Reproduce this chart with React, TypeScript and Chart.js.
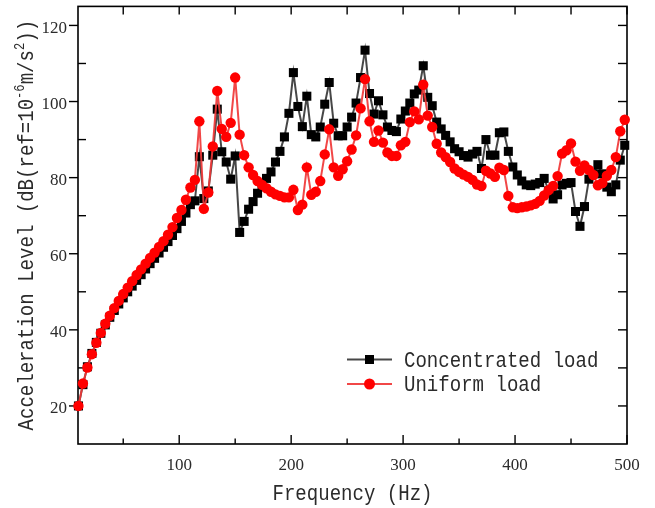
import React, { useEffect, useRef } from "react";
import { Chart, registerables } from "chart.js";

Chart.register(...registerables);

const frequencyHz = [
  10, 14, 18, 22, 26, 30, 34, 38, 42, 46,
  50, 54, 58, 62, 66, 70, 74, 78, 82, 86,
  90, 94, 98, 102, 106, 110, 114, 118, 122, 126,
  130, 134, 138, 142, 146, 150, 154, 158, 162, 166,
  170, 174, 178, 182, 186, 190, 194, 198, 202, 206,
  210, 214, 218, 222, 226, 230, 234, 238, 242, 246,
  250, 254, 258, 262, 266, 270, 274, 278, 282, 286,
  290, 294, 298, 302, 306, 310, 314, 318, 322, 326,
  330, 334, 338, 342, 346, 350, 354, 358, 362, 366,
  370, 374, 378, 382, 386, 390, 394, 398, 402, 406,
  410, 414, 418, 422, 426, 430, 434, 438, 442, 446,
  450, 454, 458, 462, 466, 470, 474, 478, 482, 486,
  490, 494, 498,
];

const concentratedLoad = [
  20.0, 25.6, 30.3, 33.8, 36.7, 39.1, 41.3, 43.3, 45.1, 46.8,
  48.4, 50.0, 51.5, 53.0, 54.5, 56.0, 57.4, 58.8, 60.2, 61.7,
  63.2, 64.8, 66.6, 68.5, 70.7, 72.9, 73.9, 85.5, 74.5, 76.5,
  85.9, 98.0, 86.8, 84.1, 79.6, 85.7, 65.6, 68.5, 71.7, 73.7,
  75.9, 77.6, 79.8, 81.5, 84.1, 86.9, 90.7, 96.9, 107.6, 98.7,
  93.4, 101.4, 91.3, 90.7, 93.3, 99.3, 105.0, 94.3, 91.0, 91.0,
  93.3, 95.9, 99.6, 106.3, 113.5, 102.1, 96.7, 100.2, 96.5, 93.3,
  92.4, 92.1, 95.4, 97.5, 99.6, 102.0, 103.0, 109.4, 101.1, 98.9,
  94.6, 92.8, 91.1, 89.4, 87.6, 86.8, 85.8, 85.4, 86.2, 86.9,
  82.4, 90.0, 85.9, 85.9, 91.8, 92.0, 86.9, 82.8, 80.7, 79.1,
  78.1, 77.9, 78.3, 78.7, 79.8, 76.5, 74.4, 75.5, 78.1, 78.5,
  78.7, 71.1, 67.2, 72.4, 79.6, 81.0, 83.4, 81.0, 77.5, 76.3,
  78.1, 84.6, 88.5,
];

const uniformLoad = [
  20.0, 25.9, 30.1, 33.6, 36.6, 39.2, 41.6, 43.7, 45.7, 47.6,
  49.4, 51.1, 52.8, 54.4, 55.9, 57.4, 58.9, 60.3, 61.8, 63.3,
  65.0, 67.0, 69.4, 71.5, 74.2, 77.4, 79.4, 94.8, 71.8, 76.1,
  88.2, 102.8, 92.8, 90.7, 94.4, 106.3, 91.3, 85.9, 82.7, 80.7,
  79.1, 78.1, 77.2, 76.3, 75.6, 75.2, 74.8, 74.8, 76.8, 71.5,
  72.9, 82.7, 75.5, 76.3, 79.1, 86.1, 92.7, 82.7, 80.5, 82.2,
  84.3, 87.4, 91.1, 98.2, 105.9, 94.8, 89.4, 92.4, 89.2, 86.6,
  85.7, 85.7, 88.5, 89.4, 94.6, 97.4, 95.3, 104.4, 96.3, 93.3,
  88.9, 86.6, 85.4, 84.1, 82.4, 81.5, 80.8, 80.2, 79.4, 78.2,
  77.8, 81.8, 81.1, 80.2, 82.6, 82.0, 75.2, 72.2, 72.0, 72.2,
  72.4, 72.7, 73.1, 73.9, 75.3, 76.7, 77.8, 80.4, 86.3, 87.2,
  89.0, 84.2, 81.8, 83.2, 82.0, 80.7, 78.0, 78.6, 80.5, 82.0,
  85.4, 92.2, 95.2,
];

const xMajorTicks = [100, 200, 300, 400, 500];
const xMinorTicks = [50, 150, 250, 350, 450];
const yMajorTicks = [20, 40, 60, 80, 100, 120];
const yMinorTicks = [30, 50, 70, 90, 110];

const seriesLabels = ["Concentrated load", "Uniform load"];
const xTitle = "Frequency (Hz)";
const yTitleParts = [
  { text: "Acceleration Level (dB(ref=10", sup: false },
  { text: "-6", sup: true },
  { text: "m/s", sup: false },
  { text: "2", sup: true },
  { text: "))", sup: false },
];

const TEXT_COLOR = "#2b2b2b";
const MONO = "'Liberation Mono', 'DejaVu Sans Mono', monospace";
const SERIF = "'Liberation Serif', 'DejaVu Serif', serif";
const SCALE_X = 0.866;

const axesPlugin = {
  id: "originAxes",
  beforeDatasetsDraw(chart: any) {
    const { ctx, chartArea: a, scales } = chart;
    const xs = scales.x;
    const ys = scales.y;
    ctx.save();
    ctx.strokeStyle = "#000";
    ctx.lineWidth = 1.6;
    ctx.strokeRect(a.left, a.top, a.right - a.left, a.bottom - a.top);
    ctx.lineWidth = 1.4;
    const line = (x1: number, y1: number, x2: number, y2: number) => {
      ctx.beginPath();
      ctx.moveTo(x1, y1);
      ctx.lineTo(x2, y2);
      ctx.stroke();
    };
    xMajorTicks.forEach((v) => {
      const px = xs.getPixelForValue(v);
      line(px, a.bottom, px, a.bottom - 9);
      line(px, a.top, px, a.top + 8);
    });
    xMinorTicks.forEach((v) => {
      const px = xs.getPixelForValue(v);
      line(px, a.bottom, px, a.bottom - 5.5);
      line(px, a.top, px, a.top + 8);
    });
    yMajorTicks.forEach((v) => {
      const py = ys.getPixelForValue(v);
      line(a.left, py, a.left - 9, py);
      line(a.right, py, a.right - 9, py);
    });
    yMinorTicks.forEach((v) => {
      const py = ys.getPixelForValue(v);
      line(a.left, py, a.left + 8, py);
      line(a.right, py, a.right - 9, py);
    });

    ctx.fillStyle = TEXT_COLOR;
    ctx.font = `17px ${SERIF}`;
    ctx.textAlign = "center";
    ctx.textBaseline = "alphabetic";
    xMajorTicks.forEach((v) => {
      ctx.fillText(String(v), xs.getPixelForValue(v), 470);
    });
    ctx.textAlign = "right";
    yMajorTicks.forEach((v) => {
      ctx.fillText(String(v), 67, ys.getPixelForValue(v) + 7.5);
    });

    // axis titles
    ctx.textAlign = "center";
    ctx.font = `22px ${MONO}`;
    ctx.save();
    ctx.translate((a.left + a.right) / 2, 499.5);
    ctx.scale(SCALE_X, 1);
    ctx.fillText(xTitle, 0, 0);
    ctx.restore();

    // y title with superscripts
    ctx.save();
    ctx.translate(33, (a.top + a.bottom) / 2);
    ctx.rotate(-Math.PI / 2);
    ctx.scale(SCALE_X, 1);
    ctx.textAlign = "left";
    const normalFont = `22px ${MONO}`;
    const supFont = `14px ${MONO}`;
    let total = 0;
    yTitleParts.forEach((p) => {
      ctx.font = p.sup ? supFont : normalFont;
      total += ctx.measureText(p.text).width;
    });
    let cx = -total / 2;
    yTitleParts.forEach((p) => {
      ctx.font = p.sup ? supFont : normalFont;
      ctx.fillText(p.text, cx, p.sup ? -9 : 0);
      cx += ctx.measureText(p.text).width;
    });
    ctx.restore();
    ctx.restore();
  },
  afterDraw(chart: any) {
    const { ctx } = chart;
    ctx.save();
    const rows = [359.5, 384];
    chart.data.datasets.forEach((ds: any, i: number) => {
      const y = rows[i];
      ctx.strokeStyle = ds.borderColor;
      ctx.lineWidth = 2;
      ctx.beginPath();
      ctx.moveTo(347, y);
      ctx.lineTo(392, y);
      ctx.stroke();
      ctx.fillStyle = ds.pointBackgroundColor;
      if (ds.pointStyle === "rect") {
        ctx.fillRect(369.5 - 4.5, y - 4.5, 9, 9);
      } else {
        ctx.beginPath();
        ctx.arc(369.5, y, 5.5, 0, Math.PI * 2);
        ctx.fill();
      }
      ctx.fillStyle = TEXT_COLOR;
      ctx.font = `22px ${MONO}`;
      ctx.textAlign = "left";
      ctx.textBaseline = "alphabetic";
      ctx.save();
      ctx.translate(404, y + 7);
      ctx.scale(SCALE_X, 1);
      ctx.fillText(ds.label, 0, 0);
      ctx.restore();
    });
    ctx.restore();
  },
};

export default function App() {
  const canvasRef = useRef<HTMLCanvasElement | null>(null);

  useEffect(() => {
    const canvas = canvasRef.current;
    if (!canvas) return;
    const chart = new Chart(canvas, {
      type: "line",
      data: {
        datasets: [
          {
            label: seriesLabels[0],
            data: frequencyHz.map((f, i) => ({ x: f, y: concentratedLoad[i] })),
            borderColor: "rgba(45,45,45,0.88)",
            borderWidth: 2,
            pointStyle: "rect",
            pointRadius: 6.4,
            pointHoverRadius: 6.4,
            pointBackgroundColor: "#000000",
            pointBorderWidth: 0,
            tension: 0,
            clip: false,
            order: 2,
          } as any,
          {
            label: seriesLabels[1],
            data: frequencyHz.map((f, i) => ({ x: f, y: uniformLoad[i] })),
            borderColor: "rgba(240,55,55,0.92)",
            borderWidth: 2,
            pointStyle: "circle",
            pointRadius: 5.2,
            pointHoverRadius: 5.2,
            pointBackgroundColor: "#ff0000",
            pointBorderWidth: 0,
            tension: 0,
            clip: false,
            order: 1,
          } as any,
        ],
      },
      options: {
        animation: false,
        responsive: false,
        devicePixelRatio: 1,
        layout: { padding: { top: 4, right: 28, left: 0, bottom: 0 } },
        plugins: {
          legend: { display: false },
          tooltip: { enabled: false },
          title: { display: false },
        },
        events: [],
        scales: {
          x: {
            type: "linear",
            min: 9.6,
            max: 500,
            grid: { display: false },
            border: { display: false },
            ticks: { display: false },
            afterFit: (s: any) => {
              s.height = 64;
            },
          },
          y: {
            type: "linear",
            min: 10,
            max: 125,
            grid: { display: false },
            border: { display: false },
            ticks: { display: false },
            afterFit: (s: any) => {
              s.width = 78;
            },
          },
        },
      } as any,
      plugins: [axesPlugin as any],
    });
    return () => chart.destroy();
  }, []);

  return (
    <div style={{ position: "absolute", left: 0, top: 0, width: 655, height: 508, background: "#fff" }}>
      <canvas ref={canvasRef} width={655} height={508} style={{ display: "block", width: 655, height: 508 }} />
    </div>
  );
}
